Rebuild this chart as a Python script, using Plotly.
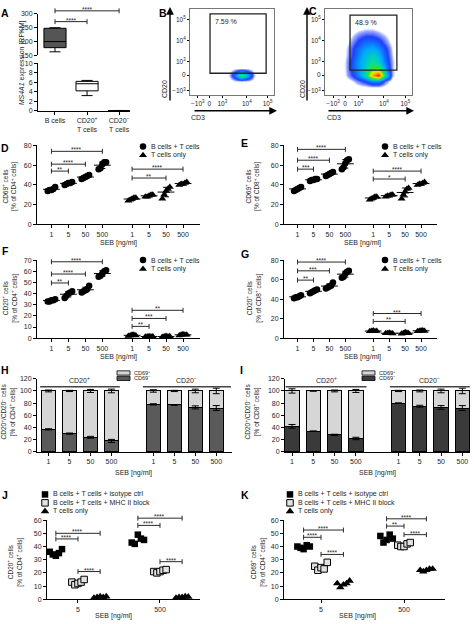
import numpy as np
import plotly.graph_objects as go

W, H = 474, 624
FONT = "Liberation Sans, Arial, Helvetica, sans-serif"
INK = "#1e1e1e"

# ======================= DATA =======================
# A: MS4A1 expression [RPKM] (box summaries)
A_cats = ["B cells", "CD20<sup>+</sup><br>T cells", "CD20<sup>−</sup><br>T cells"]
A_low = [163, 3.2, 0.03]
A_q1 = [178, 4.2, 0.04]
A_med = [200, 5.7, 0.05]
A_q3 = [248, 6.2, 0.06]
A_high = [250, 6.4, 0.07]
A_sig = [(0, 2, 311, "****"), (0, 1, 272, "****")]

# B / C: flow cytometry density (display units), CD3 (x) vs CD20 (y)
FLOW_X = [-1.0, -0.5, 0, 0.5, 1.0, 1.5, 2.0, 2.5, 3.0, 3.5, 4.0, 4.5]
FLOW_Y = [-1.0, -0.5, 0, 0.5, 1.0, 1.5, 2.0, 2.5, 3.0, 3.5, 4.0, 4.5]
FLOW_TICK_X = [-0.9, 0, 1, 2.9, 4.5]
FLOW_TICK_Y = [-1.2, 0, 1, 2.6, 4.2]
FLOW_TICK_TEXT = ["−10<sup>3</sup>", "0", "10<sup>3</sup>", "10<sup>4</sup>", "10<sup>5</sup>"]
B_density = [
    [0, 0, 0, 0, 0, 0, 0, 0, 0, 0, 0, 0],
    [0, 0, 0, 0, 0, 0, 0.5, 0.7, 0.4, 0, 0, 0],
    [0, 0, 0, 0, 0, 0.9, 4, 9, 5, 0.9, 0, 0],
    [0, 0, 0, 0, 0, 0, 0.5, 0.7, 0.4, 0, 0, 0],
    [0] * 12, [0] * 12, [0] * 12, [0] * 12, [0] * 12, [0] * 12, [0] * 12, [0] * 12,
]
C_density = [
    [0, 0, 0, 0, 0, 0, 0, 0, 0, 0, 0, 0],
    [0, 0, 0, 0.5, 1.5, 2.5, 4, 4, 1.5, 0, 0, 0],
    [0, 0, 0.7, 2, 4, 7, 13, 16, 7, 1, 0, 0],
    [0, 0, 0.8, 2.5, 4.5, 6.5, 9, 9, 4.5, 1, 0, 0],
    [0, 0, 0.8, 2.5, 4.5, 6, 7.5, 6.5, 3.5, 1, 0, 0],
    [0, 0, 0.6, 2, 4, 5.5, 6.5, 5.5, 3, 0.8, 0, 0],
    [0, 0, 0.5, 1.8, 3.5, 4.5, 5, 4.2, 2.5, 0.6, 0, 0],
    [0, 0, 0.2, 1.2, 2.5, 3.5, 3.5, 3, 1.5, 0.3, 0, 0],
    [0, 0, 0, 0.6, 1.5, 2, 2, 1.5, 0.8, 0, 0, 0],
    [0, 0, 0, 0, 0.5, 0.8, 0.8, 0.5, 0, 0, 0, 0],
    [0] * 12,
    [0] * 12,
]
B_gate = [0.05, 4.39, 0.14, 4.62]
C_gate = [0.37, 3.87, 0.37, 4.54]
B_pct = "7.59 %"
C_pct = "48.9 %"

# D-G: SEB titration dot plots
SEB = ["1", "5", "50", "500"]
D_bt = [[34, 35, 35, 36, 38], [40, 41, 42, 42, 43], [46, 47, 48, 49, 50], [56, 57, 61, 63, 63]]
D_t = [[24, 25, 26, 27, 27], [28, 28, 29, 30, 30], [26, 30, 34, 36, 38], [40, 41, 41, 42, 43]]
D_sig = [(0, 1, 54, "**"), (0, 2, 61, "****"), (0, 3, 74, "****"), (4, 7, 56, "****"), (4, 6, 47, "**")]

E_bt = [[34, 35, 36, 37, 38], [44, 45, 45, 46, 46], [49, 50, 51, 52, 53], [56, 58, 62, 65, 66]]
E_t = [[25, 26, 27, 28, 28], [28, 29, 29, 30, 30], [26, 30, 33, 36, 37], [40, 41, 41, 42, 43]]
E_sig = [(0, 1, 56, "***"), (0, 2, 65, "****"), (0, 3, 76, "****"), (4, 7, 54, "****"), (4, 6, 46, "*")]

F_bt = [[33, 33, 34, 34, 35], [36, 38, 40, 41, 42], [41, 42, 43, 44, 47], [55, 56, 58, 60, 61]]
F_t = [[2, 2.5, 3, 3, 2.5], [1.2, 1.5, 1.8, 1.5, 1.6], [1, 1.5, 2, 1.5, 1.8], [2.5, 3, 3.5, 3, 3.2]]
F_sig = [(0, 1, 49.5, "**"), (0, 2, 57.5, "****"), (0, 3, 68.5, "****"),
         (4, 7, 25, "**"), (4, 6, 17.7, "***"), (4, 5, 10.6, "**")]

G_bt = [[41, 42, 42, 43, 44], [46, 47, 48, 49, 50], [51, 52, 53, 54, 57], [62, 63, 66, 68, 69]]
G_t = [[7, 7.5, 8, 7, 7.5], [5, 5, 5.5, 5, 4.8], [4.5, 5, 6, 5.5, 5], [7, 7.5, 8, 8, 7.5]]
G_sig = [(0, 1, 59.5, "**"), (0, 2, 69, "***"), (0, 3, 78, "****"), (4, 7, 25.3, "***"), (4, 6, 17.2, "**")]

# H / I: stacked bars, CD69- fraction (rest CD69+)
H_neg = [37, 30, 24, 18, 78, 77, 73, 72]
H_neg_err = [1, 1, 1.5, 2.5, 1, 0.6, 2.5, 4]
H_tot_err = [1.5, 1, 2.5, 3, 2, 1, 3, 4.5]
I_neg = [42, 34, 28, 22, 80, 75, 73, 72]
I_neg_err = [3, 0.5, 1, 2, 0.5, 1.5, 3, 4]
I_tot_err = [3.5, 0.5, 1.5, 2.5, 1, 1.5, 3, 4.5]
HI_groups = ["CD20<sup>+</sup>", "CD20<sup>−</sup>"]

# J / K: MHC II blocking
JK_cats = ["5", "500"]
J_iso = [[36, 34, 33, 35, 38], [43, 42, 49, 46, 45]]
J_mhc = [[13, 11, 12, 13, 15], [21, 20, 21, 22, 22.5]]
J_t = [[1, 1.5, 2, 1.5, 2], [1, 1.5, 1.5, 2, 1.8]]
J_sig = [(0, "iso", "mhc", 45.75, "****"), (0, "iso", "t", 50, "****"), (0, "mhc", "t", 21, "****"),
         (1, "iso", "t", 61.5, "****"), (1, "iso", "mhc", 56, "****"), (1, "mhc", "t", 28.5, "****")]
K_iso = [[40, 39, 38, 41, 40], [48, 43, 45, 49, 46]]
K_mhc = [[25, 22, 24, 23, 28], [41, 40, 40, 42, 43]]
K_t = [[12, 9, 11, 12, 14], [22, 21, 22, 23, 23]]
K_sig = [(0, "iso", "t", 52.5, "****"), (0, "iso", "mhc", 47, "****"), (0, "mhc", "t", 34, "****"),
         (1, "iso", "t", 61, "****"), (1, "iso", "mhc", 55.5, "**"), (1, "mhc", "t", 49, "****")]

# ======================= FIGURE =======================
fig = go.Figure()
shapes = []
anns = []
axn = [0]

BASE_AX = dict(showline=True, linecolor="black", linewidth=1, ticks="outside", ticklen=3,
               tickwidth=1, tickcolor="black", showgrid=False, zeroline=False,
               tickfont=dict(size=7, color=INK, family=FONT), fixedrange=True)


def new_axes(x0, x1, yt, yb, xr, yr, xkw=None, ykw=None):
    axn[0] += 1
    n = axn[0]
    s = "" if n == 1 else str(n)
    xa = dict(BASE_AX, domain=[x0 / W, x1 / W], range=xr, anchor="y" + s)
    ya = dict(BASE_AX, domain=[1 - yb / H, 1 - yt / H], range=yr, anchor="x" + s)
    xa.update(xkw or {})
    ya.update(ykw or {})
    fig.update_layout({"xaxis" + s: xa, "yaxis" + s: ya})

    def fx(v):
        return (x0 + (v - xr[0]) / (xr[1] - xr[0]) * (x1 - x0)) / W

    def fy(v):
        return 1 - (yb - (v - yr[0]) / (yr[1] - yr[0]) * (yb - yt)) / H

    return "x" + s, "y" + s, fx, fy


def text(xp, yp, s, size=7, angle=0, xanchor="center", yanchor="middle", bold=False, color=INK):
    if bold:
        s = "<b>" + s + "</b>"
    anns.append(dict(x=xp / W, y=1 - yp / H, xref="paper", yref="paper", text=s, showarrow=False,
                     textangle=angle, xanchor=xanchor, yanchor=yanchor, borderpad=0,
                     font=dict(size=size, color=color, family=FONT)))


def pline(x0, y0, x1, y1, color="#2a2a2a", width=1):
    shapes.append(dict(type="line", xref="paper", yref="paper", x0=x0, y0=y0, x1=x1, y1=y1,
                       line=dict(color=color, width=width)))


def bracket(fx, fy, xa_, xb_, yv, label, cap=2.5):
    X0, X1, Y = fx(xa_), fx(xb_), fy(yv)
    c = cap / H
    pline(X0, Y, X1, Y)
    pline(X0, Y - c, X0, Y + c)
    pline(X1, Y - c, X1, Y + c)
    anns.append(dict(x=(X0 + X1) / 2, y=Y, xref="paper", yref="paper", text=label, showarrow=False,
                     xanchor="center", yanchor="bottom", yshift=-3, borderpad=0,
                     font=dict(size=6.5, color=INK, family=FONT)))


# ---------------- Panel A ----------------
A_xr = [-0.53, 2.34]
xt, yt_, fxt, fyt = new_axes(38, 130, 10, 52, A_xr, [150, 300],
                             xkw=dict(visible=False), ykw=dict(tickvals=[150, 200, 250, 300]))
xb, yb_, fxb, fyb = new_axes(38, 130, 60, 108, A_xr, [0, 10],
                             xkw=dict(tickvals=[0, 1, 2], ticktext=A_cats),
                             ykw=dict(tickvals=[0, 2, 4, 6, 8, 10]))
fig.add_trace(go.Box(x=[0], q1=[A_q1[0]], median=[A_med[0]], q3=[A_q3[0]], lowerfence=[A_low[0]],
                     upperfence=[A_high[0]], width=0.69, whiskerwidth=0.5, fillcolor="#555555",
                     line=dict(color="black", width=1), boxpoints=False, xaxis=xt, yaxis=yt_))
fig.add_trace(go.Box(x=[1, 2], q1=A_q1[1:], median=A_med[1:], q3=A_q3[1:], lowerfence=A_low[1:],
                     upperfence=A_high[1:], width=0.69, whiskerwidth=0.5, fillcolor="white",
                     line=dict(color="black", width=1), boxpoints=False, xaxis=xb, yaxis=yb_))
for a, b, v, lab in A_sig:
    bracket(fxt, fyt, a, b, v, lab)
text(22, 60, "<i>MS4A1</i> expression [RPKM]", size=7, angle=-90)

# ---------------- Panels B, C (flow) ----------------
FLOW_CS = [[0, "white"], [0.04, "white"], [0.06, "#aab8ff"], [0.14, "#1f3cff"], [0.3, "#00a8ff"],
           [0.45, "#00e0a0"], [0.55, "#30e030"], [0.7, "#e8f000"], [0.85, "#ff9000"], [1, "#ff1000"]]


def flow_panel(x0, x1, dens, gate, pct):
    fkw = dict(tickfont=dict(size=6.5, color=INK, family=FONT), mirror=True, linecolor="#777777",
               ticklen=2)
    xa, ya, fx, fy = new_axes(x0, x1, 5, 92, [-1.5, 5.0], [-1.5, 5.0],
                              xkw=dict(fkw, tickvals=FLOW_TICK_X, ticktext=FLOW_TICK_TEXT),
                              ykw=dict(fkw, tickvals=FLOW_TICK_Y, ticktext=FLOW_TICK_TEXT))
    fig.add_trace(go.Heatmap(x=FLOW_X, y=FLOW_Y, z=dens, zmin=0, zmax=16, colorscale=FLOW_CS,
                             zsmooth="best", showscale=False, xaxis=xa, yaxis=ya, hoverinfo="skip"))
    shapes.append(dict(type="rect", xref=xa, yref=ya, x0=gate[0], x1=gate[1], y0=gate[2], y1=gate[3],
                       line=dict(color="#222222", width=1.3)))
    anns.append(dict(x=gate[0] + 0.25, y=gate[3] - 0.15, xref=xa, yref=ya, text=pct, showarrow=False,
                     xanchor="left", yanchor="top", font=dict(size=7, color=INK, family=FONT)))


flow_panel(190, 274, B_density, B_gate, B_pct)
flow_panel(325, 412, C_density, C_gate, C_pct)


def arrow(tx, ty, axp, ayp):
    anns.append(dict(x=tx / W, y=1 - ty / H, xref="paper", yref="paper", ax=axp, ay=ayp, text="",
                     showarrow=True, arrowhead=2, arrowsize=1.1, arrowwidth=1.4, arrowcolor="black"))


arrow(170, 3, 0, 95)
arrow(277, 108, -84, 0)
arrow(307, 3, 0, 95)
arrow(414, 108, -87, 0)
text(164, 86, "CD20", size=7, angle=-90)
text(198, 115, "CD3", size=7)
text(302, 86, "CD20", size=7, angle=-90)
text(334, 115, "CD3", size=7)

# ---------------- Panels D-G ----------------
GROUP_POS = [0, 1, 2, 3, 4.75, 5.75, 6.75, 7.75]


def dot_panel(x0, x1, yt, yb, yr, dtick, bt, t, sig):
    xa, ya, fx, fy = new_axes(x0, x1, yt, yb, [-0.85, 8.75], yr,
                              xkw=dict(tickvals=GROUP_POS, ticktext=SEB * 2),
                              ykw=dict(tick0=0, dtick=dtick))
    for series, sym, size, base in ((bt, "circle", 6.5, 0), (t, "triangle-up", 7, 4)):
        xs, ys = [], []
        for gi, vals in enumerate(series):
            offs = np.linspace(-0.22, 0.22, len(vals))
            xs += list(GROUP_POS[base + gi] + offs)
            ys += list(vals)
        fig.add_trace(go.Scatter(x=xs, y=ys, mode="markers", cliponaxis=False,
                                 marker=dict(symbol=sym, size=size, color="black"),
                                 xaxis=xa, yaxis=ya))
        means = [float(np.mean(v)) for v in series]
        sds = [float(np.std(v, ddof=1)) for v in series]
        fig.add_trace(go.Scatter(x=GROUP_POS[base:base + 4], y=means, mode="markers", cliponaxis=False,
                                 marker=dict(symbol="line-ew", size=12, color="black",
                                             line=dict(width=1, color="black")),
                                 error_y=dict(type="data", array=sds, thickness=1, width=3, color="black"),
                                 xaxis=xa, yaxis=ya))
    for a, b, v, lab in sig:
        bracket(fx, fy, GROUP_POS[a], GROUP_POS[b], v, lab)


dot_panel(37, 200, 143, 223, [0, 80], 20, D_bt, D_t, D_sig)
dot_panel(284, 437, 143, 223, [0, 80], 20, E_bt, E_t, E_sig)
dot_panel(37, 200, 259, 338, [0, 70], 10, F_bt, F_t, F_sig)
dot_panel(284, 437, 259, 338, [0, 80], 20, G_bt, G_t, G_sig)

# ---------------- Panels H, I ----------------
BAR_POS = [0, 1, 2, 3, 5, 6, 7, 8]


def bar_panel(x0, x1, xr, neg, neg_err, tot_err, dark, spans):
    xa, ya, fx, fy = new_axes(x0, x1, 379, 453, xr, [0, 120],
                              xkw=dict(tickvals=BAR_POS, ticktext=SEB * 2),
                              ykw=dict(tick0=0, dtick=20))
    pos = [100 - v for v in neg]
    fig.add_trace(go.Bar(x=BAR_POS, y=neg, width=0.67, marker=dict(color=dark, line=dict(color="black", width=1)),
                         xaxis=xa, yaxis=ya))
    fig.add_trace(go.Bar(x=BAR_POS, y=pos, width=0.67,
                         marker=dict(color="#d6d6d6", line=dict(color="black", width=1)),
                         xaxis=xa, yaxis=ya))
    tops = [n + p for n, p in zip(neg, pos)]
    for yy, ee in ((neg, neg_err), (tops, tot_err)):
        fig.add_trace(go.Scatter(x=BAR_POS, y=yy, mode="markers", marker=dict(size=1, color="rgba(0,0,0,0)"),
                                 error_y=dict(type="data", array=ee, thickness=1, width=3.5, color="black"),
                                 xaxis=xa, yaxis=ya, cliponaxis=False))
    for (s0, s1), lab in zip(spans, HI_groups):
        pline(fx(s0), fy(107), fx(s1), fy(107), color="#444444", width=1.6)
        anns.append(dict(x=fx((s0 + s1) / 2), y=fy(107), xref="paper", yref="paper", text=lab,
                         showarrow=False, xanchor="center", yanchor="bottom", yshift=1,
                         font=dict(size=7, color=INK, family=FONT)))


bar_panel(37, 232, [-0.55, 8.75], H_neg, H_neg_err, H_tot_err, "#5a5a5a", [(-0.4, 3.4), (4.5, 8.7)])
bar_panel(285, 470, [-0.33, 8.36], I_neg, I_neg_err, I_tot_err, "#3a3a3a", [(-0.3, 3.5), (4.6, 8.35)])


def legend_rects(x0, x1, ytop, dark):
    for i, (col, lab) in enumerate((("#d6d6d6", "CD69<sup>+</sup>"), (dark, "CD69<sup>−</sup>"))):
        y0 = ytop + i * 5.5
        shapes.append(dict(type="rect", xref="paper", yref="paper", x0=x0 / W, x1=x1 / W,
                           y0=1 - y0 / H, y1=1 - (y0 + 4.3) / H, fillcolor=col,
                           line=dict(color="black", width=0.8)))
        text(x1 + 3, y0 + 2.2, lab, size=5.5, xanchor="left")


legend_rects(117, 130, 371, "#5a5a5a")
legend_rects(362, 375, 371, "#3a3a3a")

# ---------------- Panels J, K ----------------


def jk_panel(x0, x1, xr, offs, iso, mhc, t, sig):
    xa, ya, fx, fy = new_axes(x0, x1, 522, 602, xr, [0, 60],
                              xkw=dict(tickvals=[0, 1], ticktext=JK_cats),
                              ykw=dict(tick0=0, dtick=10))
    styles = {"iso": dict(symbol="square", size=6.5, color="black"),
              "mhc": dict(symbol="square", size=6.5, color="#e2e2e2", line=dict(color="black", width=1)),
              "t": dict(symbol="triangle-up", size=7.5, color="black")}
    for key, series in (("iso", iso), ("mhc", mhc), ("t", t)):
        xs, ys = [], []
        for ci, vals in enumerate(series):
            spread = np.linspace(-0.075, 0.075, len(vals))
            xs += list(ci + offs[key] + spread)
            ys += list(vals)
        fig.add_trace(go.Scatter(x=xs, y=ys, mode="markers", marker=styles[key], cliponaxis=False,
                                 xaxis=xa, yaxis=ya))
    for ci, a, b, v, lab in sig:
        bracket(fx, fy, ci + offs[a], ci + offs[b], v, lab)


jk_panel(47, 200, [-0.378, 1.488], {"iso": -0.27, "mhc": 0.0, "t": 0.27}, J_iso, J_mhc, J_t, J_sig)
jk_panel(284, 445, [-0.446, 1.494], {"iso": -0.21, "mhc": 0.0, "t": 0.27}, K_iso, K_mhc, K_t, K_sig)

# ---------------- legends (pixel overlay axis) ----------------
xo, yo, _, _ = new_axes(0, W, 0, H, [0, W], [H, 0], xkw=dict(visible=False), ykw=dict(visible=False))


def glyph(xp, yp, **mk):
    fig.add_trace(go.Scatter(x=[xp], y=[yp], mode="markers", marker=mk, xaxis=xo, yaxis=yo,
                             cliponaxis=False, hoverinfo="skip"))


for lx, ly in ((143, 144), (385, 144), (143, 259), (385, 259)):
    glyph(lx, ly, symbol="circle", size=6.5, color="black")
    glyph(lx, ly + 9, symbol="triangle-up", size=7, color="black")
    text(lx + 7, ly, "B cells + T cells", xanchor="left")
    text(lx + 7, ly + 9, "T cells only", xanchor="left")

for lx in (45, 290):
    glyph(lx, 496, symbol="square", size=6.5, color="black")
    glyph(lx, 504.5, symbol="square", size=6.5, color="#e2e2e2", line=dict(color="black", width=1))
    glyph(lx, 513, symbol="triangle-up", size=7.5, color="black")
    text(lx + 7, 496, "B cells + T cells + isotype ctrl", xanchor="left")
    text(lx + 7, 504.5, "B cells + T cells + MHC II block", xanchor="left")
    text(lx + 7, 513, "T cells only", xanchor="left")

# ---------------- axis titles / panel letters ----------------
ylab = "{}<br>[% of {}<sup>+</sup> cells]"
text(10, 185, ylab.format("CD69<sup>+</sup> cells", "CD4"), size=6.5, angle=-90)
text(253, 185, ylab.format("CD69<sup>+</sup> cells", "CD8"), size=6.5, angle=-90)
text(10, 298, ylab.format("CD20<sup>+</sup> cells", "CD4"), size=6.5, angle=-90)
text(254, 298, ylab.format("CD20<sup>+</sup> cells", "CD8"), size=6.5, angle=-90)
text(8, 412, ylab.format("CD20<sup>+</sup>/CD20<sup>−</sup> cells", "CD4"), size=6.5, angle=-90)
text(252, 412, ylab.format("CD20<sup>+</sup>/CD20<sup>−</sup> cells", "CD8"), size=6.5, angle=-90)
text(15, 565, ylab.format("CD20<sup>+</sup> cells", "CD4"), size=6.5, angle=-90)
text(258, 565, ylab.format("CD69<sup>+</sup> cells", "CD4"), size=6.5, angle=-90)

for xp, yp in ((118, 242), (362, 242), (118, 357), (362, 357), (133, 474), (377, 474), (113, 619), (357, 619)):
    text(xp, yp, "SEB [ng/ml]", size=7)

for lab, xp, yp in (("A", 5, 9), ("B", 163, 9), ("C", 313, 7), ("D", 5, 146), ("E", 244, 141),
                    ("F", 5, 250), ("G", 245, 253), ("H", 5, 370), ("I", 241, 370), ("J", 5, 497),
                    ("K", 245, 497)):
    text(xp, yp, lab, size=10.5, bold=True, color="black")

fig.update_layout(width=W, height=H, margin=dict(l=0, r=0, t=0, b=0), paper_bgcolor="white",
                  plot_bgcolor="rgba(0,0,0,0)", showlegend=False, barmode="stack", bargap=0,
                  font=dict(family=FONT, size=7, color=INK), shapes=shapes, annotations=anns)

fig.write_html("out.html", config={"displayModeBar": False, "staticPlot": True},
               post_script="document.body.style.margin='0';")
